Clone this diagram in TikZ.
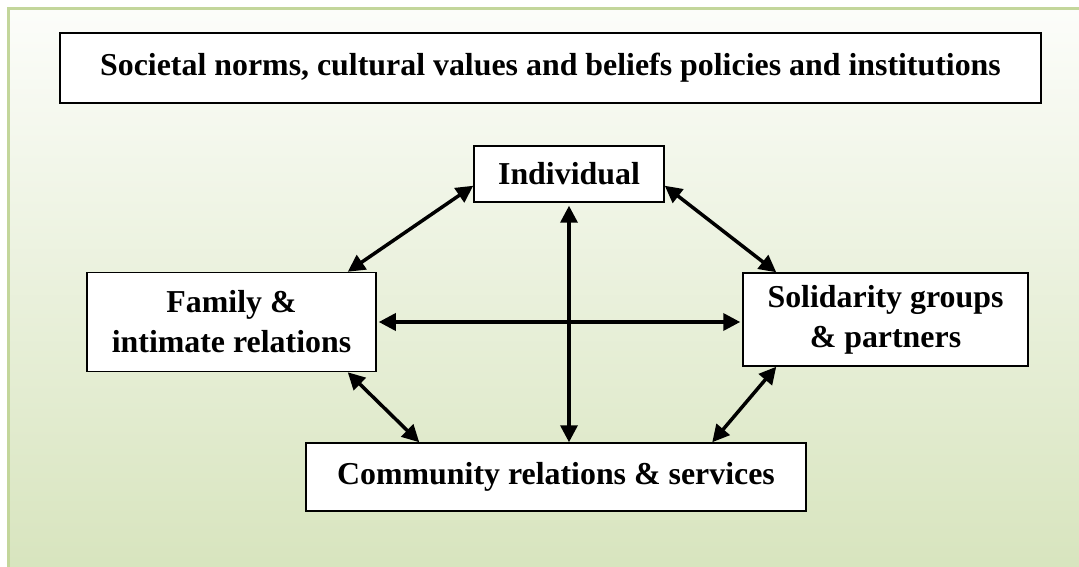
\documentclass[tikz,border=0pt]{standalone}
\usepackage{fontspec}
\setmainfont{Liberation Serif}
\usetikzlibrary{arrows.meta,calc}
\definecolor{panelgreen}{HTML}{D7E4BD}
\definecolor{paneltop}{HTML}{FCFDFA}
\definecolor{edgegreen}{HTML}{C3D69B}
\tikzset{
  box/.style={draw=black,line width=1.5bp,fill=white,inner sep=0pt,align=center,
    font=\bfseries\fontsize{32}{40}\selectfont},
  link/.style={line width=3.5bp,{Triangle[length=17bp,width=17bp]}-{Triangle[length=17bp,width=17bp]}}
}
\begin{document}
\begin{tikzpicture}[x=1bp,y=-1bp]
  \useasboundingbox (0,0) rectangle (1079,567);
  \clip (0,0) rectangle (1079,567);
  \fill[white] (0,0) rectangle (1079,567);
  % background panel with a vertical gradient
  \shade[top color=paneltop,bottom color=panelgreen] (8,9) rectangle (1090,580);
  \draw[edgegreen,line width=3bp] (8,580) -- (8,9) -- (1090,9);

  % boxes
  \node[box,minimum width=981bp,minimum height=70bp] (top) at (550.5,68) {Societal norms, cultural values and beliefs policies and institutions};
  \node[box,minimum width=190bp,minimum height=56bp] (ind) at (569,174) {Individual};
  \node[box,minimum width=289bp,minimum height=99bp] (fam) at (231.5,322) {Family \&\\intimate relations};
  \node[box,minimum width=285bp,minimum height=93bp] (sol) at (885.5,319.5) {Solidarity groups\\\& partners};
  \node[box,minimum width=500bp,minimum height=68bp] (com) at (556,477) {Community relations \& services};

  % connectors
  \draw[link] ($(ind.south west)+(0,-17)$) -- ($(fam.north east)+(-29,0)$);
  \draw[link] ($(ind.south east)+(0,-17)$) -- ($(sol.north west)+(34,0)$);
  \draw[link,shorten <=3bp] (ind.south) -- (ind.south |- com.north);
  \draw[link,shorten <=2bp,shorten >=2bp] (fam.east) -- (fam.east -| sol.west);
  \draw[link] ($(fam.south east)+(-29,0)$) -- ($(com.north west)+(114,0)$);
  \draw[link] ($(sol.south west)+(34,0)$) -- ($(com.north west)+(407,0)$);
\end{tikzpicture}
\end{document}
